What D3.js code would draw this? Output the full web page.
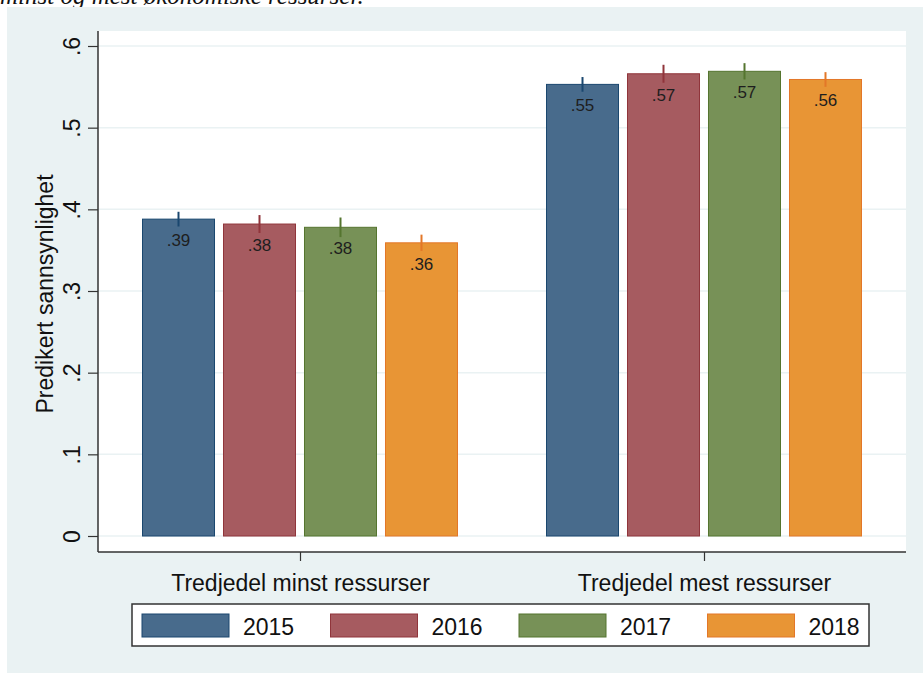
<!DOCTYPE html>
<meta charset="utf-8">
<style>
body { margin: 0; background: #fff; }
svg { display: block; }
text { font-family: "Liberation Sans", Arial, sans-serif; fill: #111; }
</style>
<svg width="923" height="673"></svg>
<script src="https://d3js.org/d3.v7.min.js"></script>
<script>
// categories and series
var groups = ["Tredjedel minst ressurser", "Tredjedel mest ressurser"];
var years = ["2015", "2016", "2017", "2018"];
var colors = ["#486b8c", "#a65b60", "#779157", "#e89535"];
var strokes = ["#1a476f", "#90353b", "#55752f", "#e37728"];

// predicted probability per year, one array per group
var minstValues = [0.388, 0.382, 0.378, 0.359];
var mestValues  = [0.553, 0.566, 0.569, 0.559];
// confidence interval ends
var minstLow  = [0.379, 0.371, 0.366, 0.349];
var minstHigh = [0.397, 0.393, 0.390, 0.369];
var mestLow   = [0.544, 0.555, 0.559, 0.550];
var mestHigh  = [0.562, 0.577, 0.579, 0.568];

var yTicks = [0, 0.1, 0.2, 0.3, 0.4, 0.5, 0.6];
var caption = "minst og mest økonomiske ressurser.";

var valueTable = [minstValues, mestValues],
    lowTable = [minstLow, mestLow],
    highTable = [minstHigh, mestHigh];

var data = [];
groups.forEach(function(g, gi) {
  years.forEach(function(yr, yi) {
    data.push({group: g, year: yr, i: yi,
      value: valueTable[gi][yi], lo: lowTable[gi][yi], hi: highTable[gi][yi]});
  });
});

var svg = d3.select("svg");

// cropped caption line from the document above the figure
svg.append("text")
    .attr("x", 0)
    .attr("y", 4)
    .style("font-family", "'Liberation Serif', 'Times New Roman', serif")
    .style("font-style", "italic")
    .style("font-size", "25px")
    .text(caption);

// graph region
svg.append("rect")
    .attr("x", 7).attr("y", 7)
    .attr("width", 916).attr("height", 666)
    .attr("fill", "#eaf2f3");

var plot = {left: 98, right: 906, top: 31, bottom: 552};

svg.append("rect")
    .attr("x", plot.left).attr("y", plot.top)
    .attr("width", plot.right - plot.left)
    .attr("height", plot.bottom - plot.top)
    .attr("fill", "#fff");

var x0 = d3.scalePoint().domain(groups).range([plot.left, plot.right]).padding(0.5);
var x1 = d3.scaleBand().domain(years).range([-157.5, 157.5]).paddingInner(0.111);
var y = d3.scaleLinear().domain([0, 0.6]).range([536, 46]);

// grid
svg.append("g")
  .selectAll("line")
  .data(yTicks)
  .join("line")
    .attr("x1", plot.left).attr("x2", plot.right)
    .attr("y1", function(d) { return y(d); })
    .attr("y2", function(d) { return y(d); })
    .attr("stroke", "#eaf2f3")
    .attr("stroke-width", 1.5);

// bars
svg.append("g")
  .selectAll("rect")
  .data(data)
  .join("rect")
    .attr("x", function(d) { return x0(d.group) + x1(d.year); })
    .attr("y", function(d) { return y(d.value); })
    .attr("width", x1.bandwidth())
    .attr("height", function(d) { return y(0) - y(d.value); })
    .attr("fill", function(d) { return colors[d.i]; })
    .attr("stroke", function(d) { return strokes[d.i]; })
    .attr("stroke-width", 1);

// confidence spikes
svg.append("g")
  .selectAll("line")
  .data(data)
  .join("line")
    .attr("x1", function(d) { return x0(d.group) + x1(d.year) + x1.bandwidth() / 2; })
    .attr("x2", function(d) { return x0(d.group) + x1(d.year) + x1.bandwidth() / 2; })
    .attr("y1", function(d) { return y(d.lo); })
    .attr("y2", function(d) { return y(d.hi); })
    .attr("stroke", function(d) { return strokes[d.i]; })
    .attr("stroke-width", 2);

// bar labels
svg.append("g")
  .selectAll("text")
  .data(data)
  .join("text")
    .attr("x", function(d) { return x0(d.group) + x1(d.year) + x1.bandwidth() / 2; })
    .attr("y", function(d) { return y(d.value) + 27; })
    .attr("text-anchor", "middle")
    .style("font-size", "17px")
    .style("fill", "#1e1e1e")
    .text(function(d) { return d3.format(".2f")(d.value).replace(/^0/, ""); });

// y axis
var yAxis = d3.axisLeft(y)
    .tickValues(yTicks)
    .tickSize(10)
    .tickPadding(0)
    .tickFormat(function(d) { return d === 0 ? "0" : d3.format(".1f")(d).replace(/^0/, ""); });

var ya = svg.append("g")
    .attr("transform", "translate(" + plot.left + ",0)")
    .call(yAxis);
ya.select(".domain").remove();
ya.selectAll(".tick line").attr("stroke", "#333").attr("stroke-width", 1.2);
ya.selectAll(".tick text")
    .attr("x", null).attr("dy", null)
    .attr("transform", "translate(-18,0) rotate(-90)")
    .attr("text-anchor", "middle")
    .style("font-size", "23px")
    .style("font-family", "'Liberation Sans', Arial, sans-serif")
    .attr("fill", "#111");

svg.append("line")
    .attr("x1", plot.left).attr("x2", plot.left)
    .attr("y1", plot.top).attr("y2", plot.bottom)
    .attr("stroke", "#333").attr("stroke-width", 1.5);

// x axis
var xa = svg.append("g")
    .attr("transform", "translate(0," + plot.bottom + ")")
    .call(d3.axisBottom(x0).tickSize(9).tickPadding(14));
xa.select(".domain").remove();
xa.selectAll(".tick line").attr("stroke", "#333").attr("stroke-width", 1.2);
xa.selectAll(".tick text")
    .style("font-size", "23px")
    .style("font-family", "'Liberation Sans', Arial, sans-serif")
    .attr("fill", "#111");

svg.append("line")
    .attr("x1", plot.left).attr("x2", plot.right)
    .attr("y1", plot.bottom).attr("y2", plot.bottom)
    .attr("stroke", "#333").attr("stroke-width", 1.5);

// y title
svg.append("text")
    .attr("transform", "translate(53,294) rotate(-90)")
    .attr("text-anchor", "middle")
    .style("font-size", "23px")
    .text("Predikert sannsynlighet");

// legend
var legend = svg.append("g");
legend.append("rect")
    .attr("x", 132).attr("y", 604)
    .attr("width", 737).attr("height", 42)
    .attr("fill", "#fff")
    .attr("stroke", "#333")
    .attr("stroke-width", 1.5);

var item = legend.selectAll("g.item")
  .data(years)
  .join("g")
    .attr("class", "item")
    .attr("transform", function(d, i) { return "translate(" + (142 + i * 188.5) + ",614)"; });

item.append("rect")
    .attr("width", 87).attr("height", 23)
    .attr("fill", function(d, i) { return colors[i]; })
    .attr("stroke", function(d, i) { return strokes[i]; })
    .attr("stroke-width", 1);

item.append("text")
    .attr("x", 101)
    .attr("y", 21)
    .style("font-size", "23px")
    .text(function(d) { return d; });
</script>
